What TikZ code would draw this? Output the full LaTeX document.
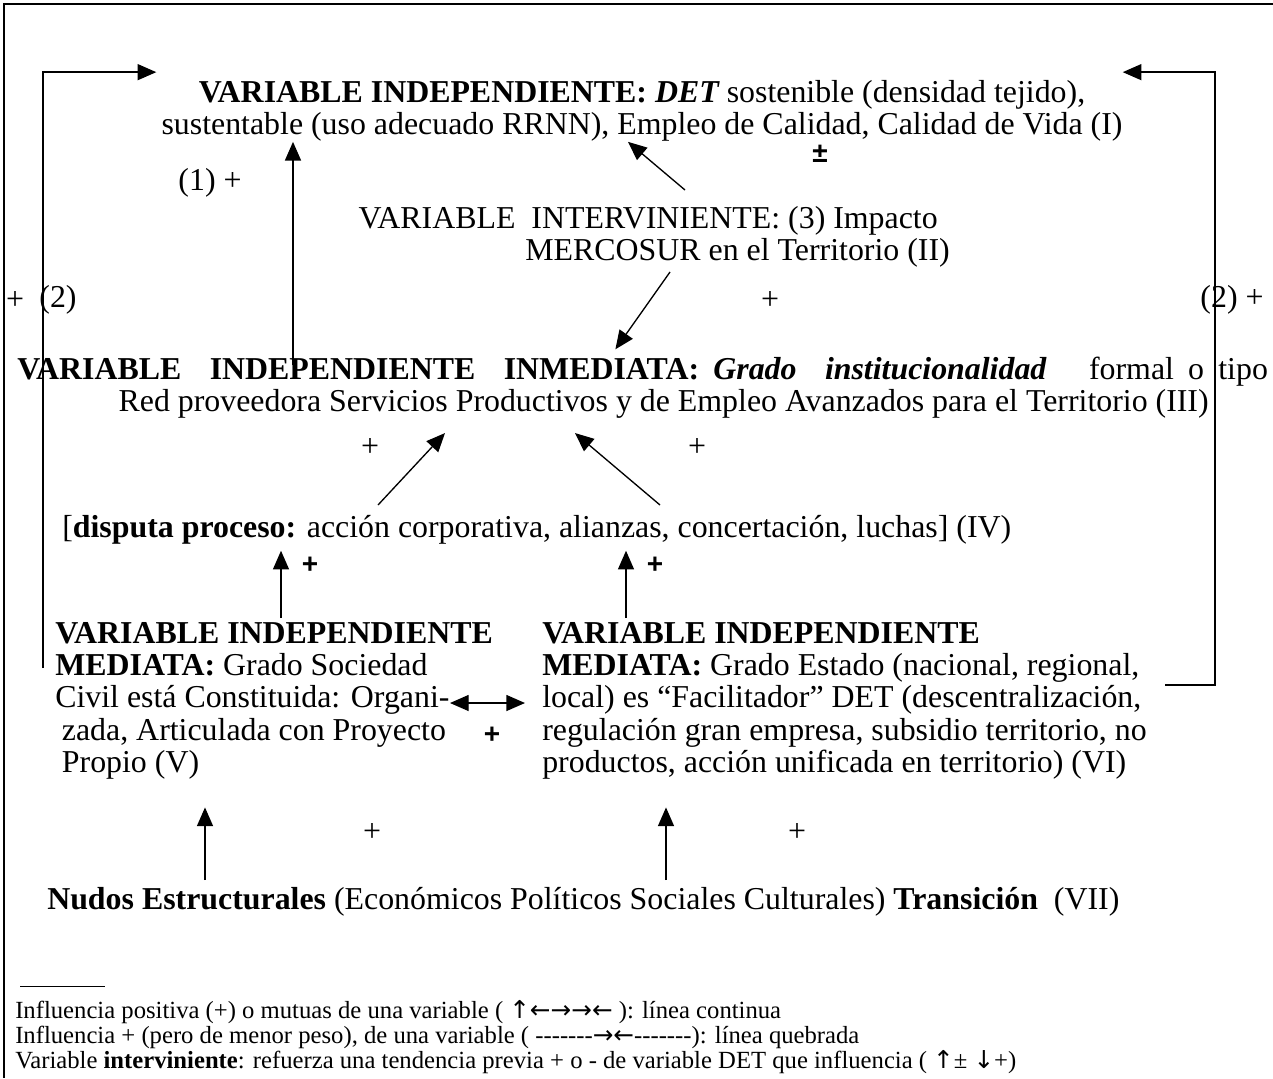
\documentclass[tikz,border=0pt]{standalone}
\usepackage{fontspec}
\setmainfont{Liberation Serif}
\newfontfamily\plusfont{Liberation Sans}
\newfontfamily\arrowfont{DejaVu Sans}
\usetikzlibrary{arrows.meta,calc}

\tikzset{
  arr/.style={line width=1pt, -{Triangle[length=14pt,width=12pt]}},
  dbl/.style={line width=1pt, {Triangle[length=14pt,width=12pt]}-{Triangle[length=14pt,width=12pt]}},
  txt/.style={inner sep=0pt, font=\fontsize{23.9}{24.2}\selectfont},
  bsgn/.style={inner sep=0pt, font=\plusfont\bfseries\fontsize{21}{24}\selectfont},
  note/.style={inner sep=0pt, align=left, font=\fontsize{18.5}{18.9}\selectfont},
}

\begin{document}
\begin{tikzpicture}[x=0.75pt, y=-0.75pt]
  \useasboundingbox (0,0) rectangle (1273,1078);

  % marco
  \draw[line width=2.2pt] (3,4) -- (1273,4);
  \draw[line width=1.5pt] (4,4) -- (4,1078);

  % variables
  \node[txt, align=center] (I) at (642,111)
    {{\bfseries VARIABLE INDEPENDIENTE: \itshape DET} sostenible (densidad tejido),\\
     sustentable (uso adecuado RRNN), Empleo de Calidad, Calidad de Vida (I)};
  \node[txt, align=right, anchor=east] (II) at (950,237)
    {VARIABLE\ \ INTERVINIENTE: (3) Impacto\hspace*{9pt}\\
     MERCOSUR en el Territorio (II)};
  \node[txt, align=left, anchor=west] (III) at (17,388)
    {\makebox[938pt][s]{\bfseries VARIABLE\ \ INDEPENDIENTE\ \ INMEDIATA: \itshape Grado\ \ institucionalidad\ \ \ \mdseries\upshape formal o tipo}\\
     \hspace*{76pt}Red proveedora Servicios Productivos y de Empleo Avanzados para el Territorio (III)};
  \node[txt, anchor=west] (IV) at (62,530)
    {[{\bfseries disputa proceso:} acción corporativa, alianzas, concertación, luchas] (IV)};
  \node[txt, align=left, anchor=north west] (V) at (55,622)
    {{\bfseries VARIABLE INDEPENDIENTE}\\
     {\bfseries MEDIATA:} Grado Sociedad\\
     Civil está Constituida: Organi-\\
     \hspace*{5pt}zada, Articulada con Proyecto\\
     \hspace*{5pt}Propio (V)};
  \node[txt, align=left, anchor=north west] (VI) at (542,622)
    {{\bfseries VARIABLE INDEPENDIENTE}\\
     {\bfseries MEDIATA:} Grado Estado (nacional, regional,\\
     local) es “Facilitador” DET (descentralización,\\
     regulación gran empresa, subsidio territorio, no\\
     productos, acción unificada en territorio) (VI)};
  \node[txt, anchor=west] (VII) at (47,902)
    {{\bfseries Nudos Estructurales} (Económicos Políticos Sociales Culturales) {\bfseries Transición}\ \ (VII)};

  % signos
  \node[bsgn] (s0) at (820,154) {±};
  \node[txt] (s1) at (210,183) {(1) +};
  \node[txt] (s2) at (770,300) {+};
  \node[txt] (s3) at (15,300) {+};
  \node[txt] (s4) at (58,300) {(2)};
  \node[txt] (s5) at (1232,300) {(2) +};
  \node[txt] (s6) at (370,447) {+};
  \node[txt] (s7) at (697,447) {+};
  \node[bsgn] (s8) at (310,565) {+};
  \node[bsgn] (s9) at (655,565) {+};
  \node[bsgn] (s10) at (492,735) {+};
  \node[txt] (s11) at (372,832) {+};
  \node[txt] (s12) at (797,832) {+};

  % flechas
  \coordinate (t1) at (293,365);
  \coordinate (t2) at (685,190);
  \coordinate (t3) at (670,272);
  \coordinate (t4) at (378,505);
  \coordinate (t5) at (660,505);
  \coordinate (t6) at (281,618);
  \coordinate (t7) at (626,618);
  \coordinate (t8) at (205,880);
  \coordinate (t9) at (666,880);
  \coordinate (m1) at (450,703);
  \coordinate (fbL) at (43,668);
  \coordinate (fbR) at (1165,685);

  \draw[arr] (t1) -- (t1 |- I.south);
  \draw[arr] (t2) -- (I.south -| 628,0);
  \draw[arr, shorten >=7pt] (t3) -- (III.north -| 610,0);
  \draw[arr] (t4) -- ($(III.south -| 445,0)+(0,14)$);
  \draw[arr] (t5) -- ($(III.south -| 575,0)+(0,14)$);
  \draw[arr] (t6) -- ($(t6 |- IV.south)+(0,6)$);
  \draw[arr] (t7) -- ($(t7 |- IV.south)+(0,6)$);
  \draw[arr] (t8) -- ($(t8 |- V.south)+(0,28)$);
  \draw[arr] (t9) -- ($(t9 |- VI.south)+(0,28)$);
  \draw[dbl, shorten >=12.75pt] (m1) -- (m1 -| VI.west);
  \draw[arr] (fbL) |- ($(I.north west)+(-5,-8)$);
  \draw[arr] (fbR) -- ++(50,0) |- ($(I.north east)+(0,-8)$);

  % nota
  \draw[line width=0.6pt] (20,986) -- (105,986);
  \node[note, anchor=north west] (nota) at (15,1000)
    {Influencia positiva (+) o mutuas de una variable ( {\arrowfont ↑←→→←} ): línea continua\\
     Influencia + (pero de menor peso), de una variable ( -{}-{}-{}-{}-{}-{}-{\arrowfont →←}-{}-{}-{}-{}-{}-{}-): línea quebrada\\
     Variable {\bfseries interviniente}: refuerza una tendencia previa + o - de variable DET que influencia ( {\arrowfont ↑}± {\arrowfont ↓}+)};
\end{tikzpicture}
\end{document}
